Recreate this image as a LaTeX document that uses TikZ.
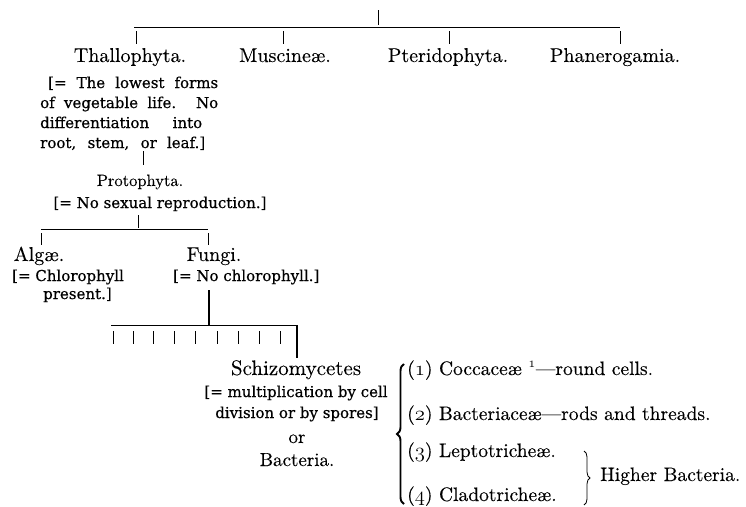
\documentclass[tikz,border=0pt]{standalone}
\usepackage{fontspec}
\setmainfont{lmroman10-regular.otf}[ItalicFont=lmroman10-italic.otf, BoldFont=lmroman10-bold.otf, FakeBold=0.15]
\newfontfamily\brfont{DejaVu Serif}[FakeBold=0.5]
\newcommand\osn[1]{$\mathnormal{#1}$}
\usetikzlibrary{decorations.pathreplacing}
\tikzset{
  lab/.style={inner sep=0pt, anchor=base, font=\fontsize{20}{24}\selectfont},
  labw/.style={inner sep=0pt, anchor=base west, font=\fontsize{19.5}{24}\selectfont},
  br/.style={inner sep=0pt, font=\brfont\fontsize{15}{18}\selectfont},
  thinl/.style={line width=0.6pt},
  rulel/.style={line width=0.9pt},
  thickl/.style={line width=1.4pt},
  bigbrace/.style={line width=1.9pt, decorate, decoration={brace, amplitude=7pt}},
  smallbrace/.style={line width=0.8pt, decorate, decoration={brace, amplitude=6pt}},
}
\begin{document}
\begin{tikzpicture}[x=1pt,y=-1pt]
\fill[white] (0,0) rectangle (746,506);
\useasboundingbox (0,0) rectangle (746,506);

% ---- top level
\coordinate (top0) at (378,10);
\coordinate (top1) at (378,25);
\coordinate (hl) at (134,27);
\coordinate (hr) at (620,27);
\draw[thinl] (top0) -- (top1);
\draw[rulel] (hl) -- (hr);

\node[lab] (thal) at (130,62) {Thallophyta.};
\node[lab] (musc) at (285,62) {Muscineæ.};
\node[lab] (pter) at (448,62) {Pteridophyta.};
\node[lab] (phan) at (615,62) {Phanerogamia.};

\foreach \n/\x in {a/136,b/283,c/449,d/620}{
  \coordinate (k\n1) at (\x,31);
  \coordinate (k\n2) at (\x,44);
  \draw[thinl] (k\n1) -- (k\n2);
}

% ---- Thallophyta description
\node[br, anchor=base west] (tb1) at (48,88) {\makebox[170pt][s]{[= The lowest forms}};
\node[br, anchor=base west] (tb2) at (40,108) {\makebox[178pt][s]{of vegetable life.  No}};
\node[br, anchor=base west] (tb3) at (40,128) {\makebox[162pt][s]{differentiation into}};
\node[br, anchor=base west] (tb4) at (40,148) {\makebox[165pt][s]{root, stem, or leaf.]}};

\coordinate (p0) at (143,151);
\coordinate (p1) at (143,165);
\draw[thinl] (p0) -- (p1);

% ---- Protophyta
\node[lab, font=\fontsize{16.5}{20}\selectfont] (proto) at (140,186) {Protophyta.};
\node[br, anchor=base] (protobr) at (160,208) {[= No sexual reproduction.]};

\coordinate (q0) at (138,215);
\coordinate (q1) at (138,228);
\coordinate (ql) at (41,229);
\coordinate (qr) at (208,229);
\draw[thinl] (q0) -- (q1);
\draw[rulel] (ql) -- (qr);
\coordinate (qa1) at (41,233);
\coordinate (qa2) at (41,245);
\coordinate (qb1) at (208,233);
\coordinate (qb2) at (208,245);
\draw[thinl] (qa1) -- (qa2);
\draw[thinl] (qb1) -- (qb2);

% ---- Algae / Fungi
\node[lab] (alg) at (39,261) {Algæ.};
\node[lab] (fung) at (214,261) {Fungi.};
\node[br, anchor=base west] (algbr1) at (12,281) {[= Chlorophyll};
\node[br, anchor=base west] (algbr2) at (43,299) {present.]};
\node[br, anchor=base west] (fungbr) at (173,281) {[= No chlorophyll.]};

\coordinate (f0) at (209,290);
\coordinate (f1) at (209,325);
\draw[thickl] (f0) -- (f1);
\coordinate (sl) at (111,325);
\coordinate (sr) at (297,325);
\draw[rulel] (sl) -- (sr);
\foreach \i/\x in {1/113,2/133,3/153,4/174,5/195,6/217,7/238,8/259,9/280}{
  \coordinate (s\i a) at (\x,331);
  \coordinate (s\i b) at (\x,344);
  \draw[thinl] (s\i a) -- (s\i b);
}
\coordinate (lt0) at (297,325);
\coordinate (lt1) at (297,358);
\draw[thickl] (lt0) -- (lt1);

% ---- Schizomycetes
\node[lab, font=\fontsize{21}{24}\selectfont] (schizo) at (296,375) {Schizomycetes};
\node[br, anchor=base] (sb1) at (296,397) {[= multiplication by cell};
\node[br, anchor=base] (sb2) at (297,418) {division or by spores]};
\node[lab, font=\fontsize{19}{22}\selectfont] (orn) at (297,443) {or};
\node[lab, font=\fontsize{19}{22}\selectfont] (bact) at (297,466) {Bacteria.};

% ---- subdivisions
\coordinate (bb) at (404,504);
\coordinate (bt) at (404,364);
\draw[bigbrace] (bb) -- (bt);

\node[labw] (c1) at (407,375) {(\osn{1}) Coccaceæ \textsuperscript{\osn{1}}—round cells.};
\node[labw] (c2) at (407,420) {(\osn{2}) Bacteriaceæ—rods and threads.};
\node[labw] (c3) at (407,457) {(\osn{3}) Leptotricheæ.};
\node[labw] (c4) at (407,501) {(\osn{4}) Cladotricheæ.};

\coordinate (sbt) at (584,451);
\coordinate (sbb) at (584,505);
\draw[smallbrace] (sbt) -- (sbb);
\node[labw] (hb) at (600,481) {Higher Bacteria.};
\end{tikzpicture}
\end{document}
